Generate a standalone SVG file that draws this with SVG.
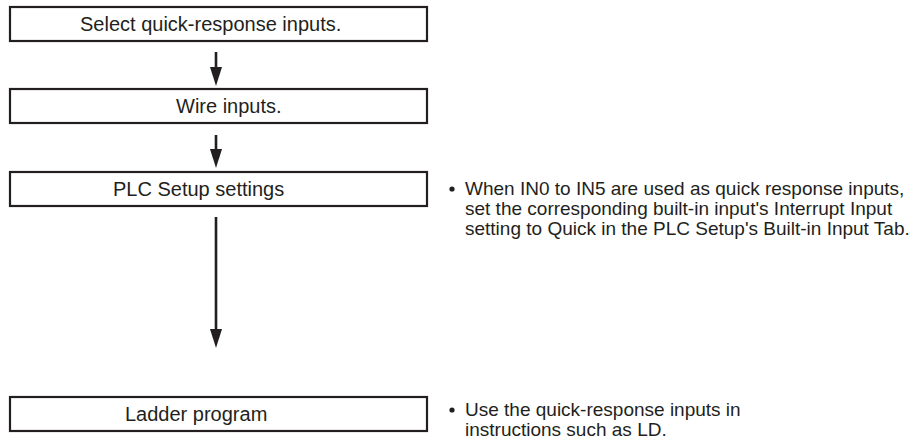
<svg xmlns="http://www.w3.org/2000/svg" width="917" height="441" viewBox="0 0 917 441">
<style>
.box{fill:#fff;stroke:#231f20;stroke-width:2.2}
.t{font-family:"Liberation Sans",Arial,sans-serif;fill:#231f20}
.bt{font-size:20px}
.nt{font-size:19px}
.sh{stroke:#231f20;stroke-width:2.6;fill:none}
.hd{fill:#231f20}
</style>
<rect width="917" height="441" fill="#fff"/>
<g id="node-select">
<rect class="box" x="10" y="7" width="417" height="34"/>
<text class="t bt" x="80" y="31">Select quick-response inputs.</text>
</g>
<g id="node-wire">
<rect class="box" x="10" y="89" width="417" height="34"/>
<text class="t bt" x="176" y="113">Wire inputs.</text>
</g>
<g id="node-plc">
<rect class="box" x="10" y="172" width="417" height="34"/>
<text class="t bt" x="113" y="196">PLC Setup settings</text>
</g>
<g id="node-ladder">
<rect class="box" x="10" y="397" width="417" height="34"/>
<text class="t bt" x="125" y="421">Ladder program</text>
</g>
<g id="connectors">
<line class="sh" x1="216" y1="52" x2="216" y2="69"/>
<polygon class="hd" points="210,67 222,67 216,86"/>
<line class="sh" x1="216" y1="135" x2="216" y2="151"/>
<polygon class="hd" points="210,149 222,149 216,168"/>
<line class="sh" x1="216" y1="217" x2="216" y2="331"/>
<polygon class="hd" points="210,329 222,329 216,348"/>
</g>
<g id="note-plc">
<circle class="hd" cx="452" cy="189" r="2.6"/>
<text class="t nt" x="465" y="195">When IN0 to IN5 are used as quick response inputs,</text>
<text class="t nt" x="465" y="215">set the corresponding built-in input's Interrupt Input</text>
<text class="t nt" x="465" y="235">setting to Quick in the PLC Setup's Built-in Input Tab.</text>
</g>
<g id="note-ladder">
<circle class="hd" cx="452" cy="410" r="2.6"/>
<text class="t nt" x="465" y="416">Use the quick-response inputs in</text>
<text class="t nt" x="465" y="436">instructions such as LD.</text>
</g>
</svg>
